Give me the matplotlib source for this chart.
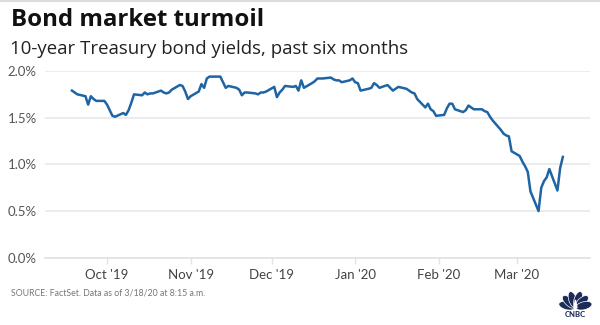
import matplotlib
matplotlib.use("Agg")
import matplotlib.pyplot as plt
import matplotlib.dates as mdates
from matplotlib.patches import Ellipse, Polygon
import numpy as np
import pandas as pd

# 10-year Treasury yield (%), one value per weekday, 9/18/19 - 3/18/20
sep_19 = [1.79, 1.77, 1.75, 1.73, 1.64, 1.73, 1.70, 1.68, 1.68]
oct_19 = [1.64, 1.58, 1.52, 1.51, 1.55, 1.53, 1.58, 1.66, 1.75, 1.74, 1.77, 1.75,
          1.76, 1.76, 1.79, 1.77, 1.76, 1.77, 1.80, 1.85, 1.84, 1.78, 1.70]
nov_19 = [1.73, 1.78, 1.86, 1.82, 1.92, 1.94, 1.94, 1.94, 1.88, 1.82, 1.84, 1.82,
          1.80, 1.74, 1.77, 1.77, 1.76, 1.75, 1.77, 1.77, 1.78]
dec_19 = [1.83, 1.72, 1.77, 1.80, 1.84, 1.83, 1.84, 1.79, 1.90, 1.82, 1.87, 1.89,
          1.92, 1.92, 1.92, 1.93, 1.91, 1.90, 1.90, 1.88, 1.90, 1.92]
jan_20 = [1.88, 1.87, 1.79, 1.81, 1.82, 1.87, 1.85, 1.82, 1.85, 1.82, 1.79, 1.81,
          1.83, 1.81, 1.79, 1.77, 1.76, 1.70, 1.61, 1.65, 1.59, 1.57, 1.52]
feb_20 = [1.53, 1.60, 1.65, 1.65, 1.59, 1.56, 1.58, 1.63, 1.61, 1.59, 1.59, 1.57,
          1.56, 1.51, 1.47, 1.37, 1.33, 1.31, 1.30, 1.14]
mar_20 = [1.09, 1.03, 0.98, 0.92, 0.71, 0.50, 0.75, 0.82, 0.86, 0.95, 0.72, 0.96, 1.08]

yields = sep_19 + oct_19 + nov_19 + dec_19 + jan_20 + feb_20 + mar_20
dates = pd.bdate_range("2019-09-18", "2020-03-18")

y_ticks = [0.0, 0.5, 1.0, 1.5, 2.0]
month_ticks = pd.date_range("2019-10-01", "2020-03-01", freq="MS")

BLUE = "#1f64a3"
GRID = "#e9e9e9"
NAVY = "#1c2b5a"

plt.rcParams['font.family'] = ['Lato', 'DejaVu Sans']

fig = plt.figure(figsize=(6, 3.25), dpi=100)
fig.patch.set_facecolor("white")

# thin frame line along the top
fig.add_artist(plt.Line2D([0, 1], [0.997, 0.997], color="#dcdcdc", lw=1.5,
                          transform=fig.transFigure))

fig.text(0.018, 0.975, "Bond market turmoil", fontsize=17.3, fontweight="bold",
         family=["Open Sans", "DejaVu Sans"], color="#111111", va="top", ha="left")
fig.text(0.016, 0.878, "10-year Treasury bond yields, past six months", fontsize=13.4,
         family=["Open Sans", "DejaVu Sans"], color="#222222", va="top", ha="left")

ax = fig.add_axes([0.075, 0.207, 0.908, 0.5745])
ax.plot(dates, yields, color=BLUE, lw=1.8, solid_joinstyle="round", zorder=3)

ax.set_ylim(0, 2.0)
ax.set_xlim(pd.Timestamp("2019-09-08"), pd.Timestamp("2020-03-28"))
ax.set_yticks(y_ticks)
ax.set_yticklabels([f"{v:.1f}%" for v in y_ticks])
ax.yaxis.grid(True, color=GRID, lw=1.2, zorder=0)
ax.set_axisbelow(True)

ax.set_xticks(month_ticks)
ax.xaxis.set_major_formatter(mdates.DateFormatter("%b '%y"))

for side in ["left", "right", "top"]:
    ax.spines[side].set_visible(False)
ax.spines["bottom"].set_color("#e2e2e2")
ax.spines["bottom"].set_linewidth(1.2)

ax.tick_params(axis="y", length=0, pad=6, labelsize=9.5, labelcolor="#555555")
ax.tick_params(axis="x", length=4, width=1, color="#e2e2e2", pad=4,
               labelsize=9.5, labelcolor="#444444")

fig.text(0.018, 0.1, "SOURCE: FactSet. Data as of 3/18/20 at 8:15 a.m.", fontsize=6.3,
         color="#777777", va="center", ha="left")

# peacock logo, bottom right
logo = fig.add_axes([0.93, 0.01, 0.058, 0.105])
logo.set_xlim(-1.1, 1.1)
logo.set_ylim(-0.75, 1.15)
logo.set_aspect("equal")
logo.axis("off")
for ang in [166, 137, 108, 72, 43, 14]:
    t = np.radians(ang)
    logo.add_patch(Ellipse((0.55 * np.cos(t), 0.55 * np.sin(t)), 1.05, 0.5,
                           angle=ang, facecolor=NAVY, edgecolor="white", lw=0.5))
logo.add_patch(Polygon([[-0.1, 0.0], [0.1, 0.0], [0.0, 0.5]], closed=True,
                       facecolor="white", edgecolor="white"))
logo.text(0, -0.42, "CNBC", fontsize=5.5, fontweight="black", color=NAVY,
          ha="center", va="center")

fig.savefig("out.png", dpi=100, facecolor="white")
